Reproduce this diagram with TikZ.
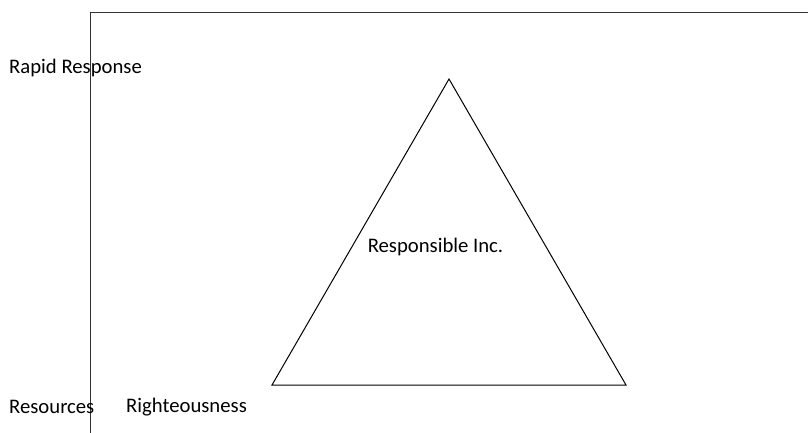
\documentclass[tikz,border=0pt]{standalone}
\usepackage{fontspec}
\setmainfont{Carlito}
\begin{document}
\begin{tikzpicture}[x=1pt,y=-1pt,
  lbl/.style={inner sep=0pt,font=\fontsize{20.7}{24}\selectfont},
  edge/.style={draw=black,line width=1pt}]
\useasboundingbox (0,0) rectangle (808,432);
\coordinate (bl) at (90,433);
\coordinate (tl) at (90,12);
\coordinate (tr) at (809,12);
\draw[edge,draw=black!80] (bl) -- (tl) -- (tr);
\coordinate (A) at (449,79);
\coordinate (B) at (272,385);
\coordinate (C) at (626,385);
\draw[edge,line join=miter] (A) -- (B) -- (C) -- cycle;
\node[lbl,anchor=west] (rr) at (9,68) {Rapid Response};
\node[lbl] (ri) at (435.5,247) {Responsible Inc.};
\node[lbl,anchor=west] (rs) at (9,407) {Resources};
\node[lbl,anchor=west] (rt) at (126,407) {Righteousness};
\end{tikzpicture}
\end{document}
